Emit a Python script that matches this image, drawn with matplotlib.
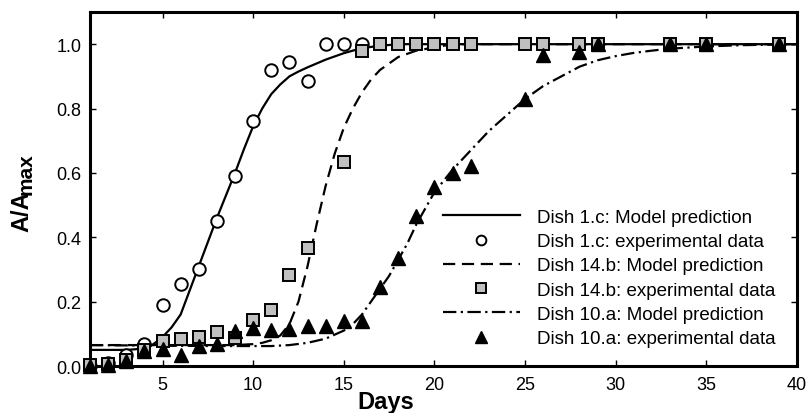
import matplotlib
matplotlib.use("Agg")
import matplotlib.pyplot as plt

plt.rcParams["font.family"] = ["Liberation Sans", "DejaVu Sans"]

days_1c = [1, 2, 3, 4, 5, 6, 7, 8, 9, 10, 11, 12, 13, 14, 15, 16]
data_1c = [0.0, 0.01, 0.034, 0.068, 0.19, 0.255, 0.30, 0.45, 0.59, 0.76, 0.92, 0.945, 0.885, 1.0, 1.0, 1.0]

days_14b = [1, 2, 3, 4, 5, 6, 7, 8, 9, 10, 11, 12, 13, 15, 16, 17, 18, 19, 20, 21, 22,
            25, 26, 28, 29, 33, 35, 39]
data_14b = [0.003, 0.006, 0.02, 0.05, 0.078, 0.084, 0.09, 0.105, 0.087, 0.143, 0.174, 0.283, 0.366,
            0.634, 0.979, 1.0, 1.0, 1.0, 1.0, 1.0, 1.0,
            1.0, 1.0, 1.0, 1.0, 1.0, 1.0, 1.0]

days_10a = [1, 2, 3, 4, 5, 6, 7, 8, 9, 10, 11, 12, 13, 14, 15, 16, 17, 18, 19, 20, 21, 22,
            25, 26, 28, 29, 33, 35, 39]
data_10a = [0.0, 0.003, 0.015, 0.047, 0.053, 0.034, 0.062, 0.068, 0.11, 0.118, 0.112, 0.115, 0.124,
            0.124, 0.14, 0.14, 0.245, 0.335, 0.466, 0.556, 0.60, 0.62,
            0.83, 0.966, 0.975, 1.0, 1.0, 1.0, 1.0]

# model predictions
model_x_1c = [1, 2, 3, 3.5, 4, 4.5, 5, 5.5, 6, 6.5, 7, 7.5, 8, 8.5, 9, 9.5, 10, 10.5, 11, 11.5,
              12, 12.5, 13, 14, 15, 16, 17, 18, 40]
model_1c = [0.05, 0.05, 0.05, 0.052, 0.056, 0.068, 0.09, 0.12, 0.16, 0.235, 0.31, 0.385, 0.46, 0.53,
            0.60, 0.675, 0.745, 0.80, 0.845, 0.875, 0.90, 0.915, 0.928, 0.952, 0.972, 0.988, 0.995,
            1.0, 1.0]

model_x_14b = [1, 9, 10, 10.5, 11, 11.5, 12, 12.5, 13, 13.5, 14, 14.5, 15, 15.5, 16, 16.5, 17,
               18, 19, 20, 21, 40]
model_14b = [0.065, 0.065, 0.068, 0.072, 0.08, 0.095, 0.13, 0.2, 0.31, 0.44, 0.56, 0.66, 0.74,
             0.80, 0.85, 0.89, 0.92, 0.96, 0.98, 0.99, 1.0, 1.0]

model_x_10a = [1, 5, 8, 11, 12, 13, 14, 15, 15.5, 16, 16.5, 17, 17.5, 18, 18.5, 19, 19.5, 20,
               21, 22, 23, 24, 25, 26, 27, 28, 29, 30, 31, 32, 33, 35, 37, 40]
model_10a = [0.065, 0.063, 0.062, 0.062, 0.065, 0.072, 0.085, 0.11, 0.13, 0.16, 0.20, 0.24, 0.28,
             0.33, 0.38, 0.44, 0.49, 0.54, 0.61, 0.67, 0.73, 0.78, 0.83, 0.87, 0.90, 0.93, 0.95,
             0.963, 0.973, 0.98, 0.986, 0.993, 0.997, 1.0]

W, H = 807, 414
fig = plt.figure(figsize=(W / 100, H / 100), dpi=100)
ax = fig.add_axes([90 / W, 1 - 367 / H, 707 / W, 354 / H])

lw = 1.6
ax.plot(model_x_1c, model_1c, color="black", lw=lw, label="Dish 1.c: Model prediction")
ax.plot([], [], "o", ms=7, mfc="white", mec="black", mew=1.4, label="Dish 1.c: experimental data")
ax.plot(model_x_14b, model_14b, color="black", lw=lw, ls=(0, (5.5, 3)), label="Dish 14.b: Model prediction")
ax.plot([], [], "s", ms=7, mfc="#c0c0c0", mec="black", mew=1.4, label="Dish 14.b: experimental data")
ax.plot(model_x_10a, model_10a, color="black", lw=lw, ls=(0, (6, 2, 1, 2)), label="Dish 10.a: Model prediction")
ax.plot([], [], "^", ms=8, mfc="black", mec="black", label="Dish 10.a: experimental data")

ax.plot(days_1c, data_1c, "o", ms=9, mfc="white", mec="black", mew=1.4, clip_on=False, zorder=3)
ax.plot(days_14b, data_14b, "s", ms=9, mfc="#c0c0c0", mec="black", mew=1.4, clip_on=False, zorder=4)
ax.plot(days_10a, data_10a, "^", ms=10, mfc="black", mec="black", clip_on=False, zorder=5)

ax.set_xlim(1, 40)
ax.set_ylim(0, 1.1)
ax.set_xticks([5, 10, 15, 20, 25, 30, 35, 40])
ax.set_yticks([0.0, 0.2, 0.4, 0.6, 0.8, 1.0])
ax.set_yticklabels(["0.0", "0.2", "0.4", "0.6", "0.8", "1.0"])
ax.tick_params(direction="in", top=True, right=True, length=4, width=1, labelsize=13)
ax.tick_params(axis="x", pad=7)
ax.tick_params(axis="y", pad=6)
for sp in ax.spines.values():
    sp.set_linewidth(2.2)

# y label: "A/A" with a lowered "max"
fig.text(22 / W, 1 - 232 / H, "A/A", rotation=90, ha="center", va="bottom",
         fontsize=17, fontweight="bold")
fig.text(26 / W, 1 - 195 / H, "max", rotation=90, ha="center", va="bottom",
         fontsize=15, fontweight="bold")
fig.text(386 / W, 1 - 391 / H, "Days", ha="center", va="top", fontsize=17, fontweight="bold")

ax.legend(loc="upper left", bbox_to_anchor=(0.4993, 0.444), frameon=False, fontsize=13.5,
          handlelength=4.1, handletextpad=0.9, labelspacing=0.38, borderpad=0,
          borderaxespad=0, numpoints=1)

fig.savefig("out.png", dpi=100)
